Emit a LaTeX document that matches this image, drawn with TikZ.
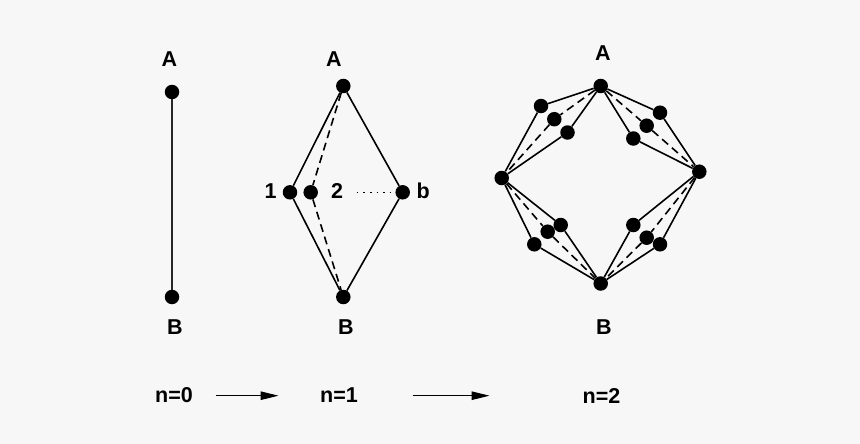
\documentclass[tikz,border=0pt]{standalone}
\usepackage{fontspec}
\setmainfont{Liberation Sans}
\usetikzlibrary{arrows.meta}
\definecolor{bg}{HTML}{F7F7F7}
\begin{document}
\begin{tikzpicture}[x=1pt,y=-1pt,
  dot/.style={circle,fill=black,inner sep=0pt,minimum size=14.5pt},
  lbl/.style={inner sep=0pt,font=\fontsize{21.5}{25}\selectfont\bfseries},
  edge/.style={line width=1.6pt},
  dedge/.style={line width=1.6pt,dash pattern=on 8pt off 5pt},
  dotline/.style={line width=1.6pt,dash pattern=on 1.6pt off 5pt},
  flow/.style={line width=1.1pt,-{Triangle[length=18pt,width=8.5pt]}}]
\fill[bg] (0,0) rectangle (860,444);
\useasboundingbox (0,0) rectangle (860,444);
% n=0
\node[dot] (a0) at (172,92) {};
\node[dot] (b0) at (172,297) {};
\node[lbl] (la0) at (169.5,59) {A};
\node[lbl] (lb0) at (175,327) {B};
\draw[edge,black!85] (a0) -- (b0);
% n=1
\node[dot] (a1) at (343.3,86) {};
\node[dot] (p1) at (290,192.3) {};
\node[dot] (p2) at (310.7,192.3) {};
\node[dot] (pb) at (402.7,192.3) {};
\node[dot] (b1) at (343.3,297) {};
\node[lbl] (la1) at (333.8,59) {A};
\node[lbl] (lb1) at (346,327) {B};
\node[lbl] (l1) at (270.5,191) {1};
\node[lbl] (l2) at (337,191) {2};
\node[lbl] (lb) at (423.3,191) {b};
\coordinate (ds) at (356.7,192.3);
\draw[edge] (a1) -- (p1) -- (b1);
\draw[edge] (a1) -- (pb) -- (b1);
\draw[dedge] (a1) -- (p2) -- (b1);
\draw[dotline] (ds) -- (pb);
% n=2
\node[dot] (a2) at (600.7,86) {};
\node[dot] (l) at (501.7,178) {};
\node[dot] (r) at (699.3,171.7) {};
\node[dot] (b2) at (600.7,283.5) {};
\node[lbl] (la2) at (603,53) {A};
\node[lbl] (lb2) at (604,327) {B};
% upper left
\node[dot] (ul1) at (541,106) {};
\node[dot] (ul2) at (554.3,119.2) {};
\node[dot] (ul3) at (567.5,132.5) {};
\draw[edge] (a2) -- (ul1) -- (l);
\draw[edge] (a2) -- (ul3) -- (l);
\draw[dedge] (a2) -- (ul2) -- (l);
% upper right
\node[dot] (ur1) at (660,112.7) {};
\node[dot] (ur2) at (646.7,125.7) {};
\node[dot] (ur3) at (633.3,138.5) {};
\draw[edge] (a2) -- (ur1) -- (r);
\draw[edge] (a2) -- (ur3) -- (r);
\draw[dedge] (a2) -- (ur2) -- (r);
% lower left
\node[dot] (ll1) at (560.7,225) {};
\node[dot] (ll2) at (547.7,231.7) {};
\node[dot] (ll3) at (534.3,244.3) {};
\draw[edge] (l) -- (ll1) -- (b2);
\draw[edge] (l) -- (ll3) -- (b2);
\draw[dedge] (l) -- (ll2) -- (b2);
% lower right
\node[dot] (lr1) at (633.3,225) {};
\node[dot] (lr2) at (646.7,237.7) {};
\node[dot] (lr3) at (660,244.3) {};
\draw[edge] (r) -- (lr1) -- (b2);
\draw[edge] (r) -- (lr3) -- (b2);
\draw[dedge] (r) -- (lr2) -- (b2);
% bottom row
\node[lbl] (n0) at (174,395.5) {n=0};
\node[lbl] (n1) at (339,395.5) {n=1};
\node[lbl] (n2) at (601.5,395.5) {n=2};
\coordinate (f1s) at (215.7,395.7);
\coordinate (f1e) at (278.5,395.7);
\coordinate (f2s) at (412.7,395.7);
\coordinate (f2e) at (489.5,395.7);
\draw[flow] (f1s) -- (f1e);
\draw[flow] (f2s) -- (f2e);
\end{tikzpicture}
\end{document}
